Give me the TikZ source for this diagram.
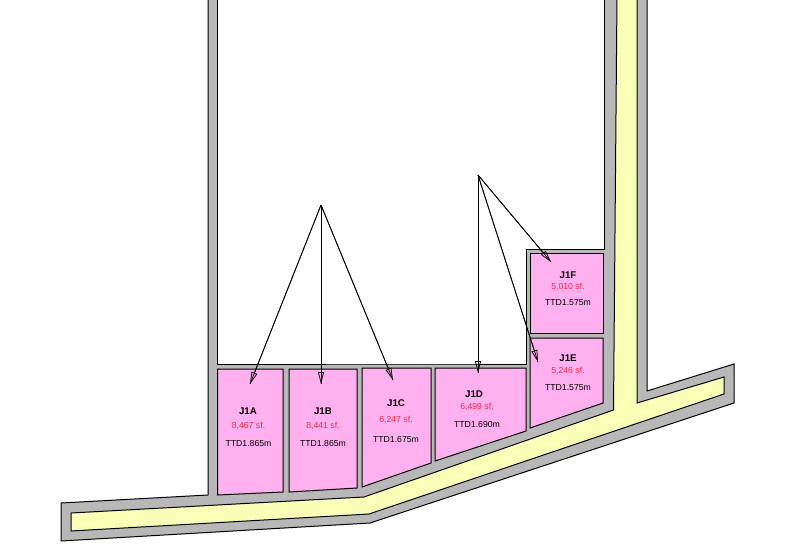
\documentclass[tikz,border=0pt]{standalone}
\usepackage{fontspec}
\setmainfont{Liberation Sans}
\usetikzlibrary{arrows.meta}
\definecolor{wallgray}{HTML}{B8B8B8}
\definecolor{roadyellow}{HTML}{F9FFB6}
\definecolor{lotpink}{HTML}{FFB0EE}
\definecolor{areared}{HTML}{F5264F}
\tikzset{
  wall/.style={fill=wallgray,draw=black,line width=1pt,line join=miter},
  road/.style={fill=roadyellow,draw=black,line width=1pt},
  yard/.style={fill=white,draw=black,line width=1pt},
  lot/.style={fill=lotpink,draw=black,line width=1pt},
  lotname/.style={font=\bfseries\fontsize{9.7}{11}\selectfont,text=black,inner sep=0pt},
  lotarea/.style={font=\fontsize{8.7}{10}\selectfont,text=areared,inner sep=0pt},
  lotcost/.style={font=\fontsize{8.7}{10}\selectfont,text=black,inner sep=0pt},
  pointer/.style={draw=black,line width=0.75pt,-{Triangle[open,length=12pt,width=6pt]}},
  shaft/.style={draw=black,line width=0.75pt}
}
\begin{document}
\begin{tikzpicture}[x=1pt,y=-1pt]
\path[use as bounding box,clip] (0,0) rectangle (793,554);
% outer wall band
\path[wall] (208,-5) -- (208,495) -- (61,503) -- (61,541) -- (370,523) -- (734,403) -- (734,364) -- (647,391) -- (647,-5) -- cycle;
% road
\path[road] (617,-5) -- (613.5,410) -- (364,497) -- (71,513) -- (71,531) -- (369,514) -- (724,394) -- (724,377) -- (637,403) -- (637,-5) -- cycle;
% enclosed white area
\path[yard] (217,-5) -- (217,364) -- (432,364) -- (526,364) -- (526,249) -- (604,249) -- (604,-5) -- cycle;
% lots
\path[lot] (217.5,369) -- (283,369) -- (283,492) -- (217.5,495) -- cycle;
\path[lot] (289,369) -- (357,369) -- (357,488) -- (289,492) -- cycle;
\path[lot] (362,368) -- (431,368) -- (431,463) -- (362,487) -- cycle;
\path[lot] (435,368) -- (526,368) -- (526,431) -- (435,461) -- cycle;
\path[lot] (530,338) -- (603,338) -- (603,403) -- (530,428) -- cycle;
\path[lot] (530,253) -- (603,253) -- (603,333) -- (530,333) -- cycle;
% labels
\node[lotname] (a1) at (248,411) {J1A};
\node[lotarea] (a2) at (248.5,426) {8,467 sf.};
\node[lotcost] (a3) at (248.5,444) {TTD1.865m};
\node[lotname] (b1) at (323,411) {J1B};
\node[lotarea] (b2) at (323,426) {8,441 sf.};
\node[lotcost] (b3) at (323,444) {TTD1.865m};
\node[lotname] (c1) at (396,403) {J1C};
\node[lotarea] (c2) at (396,420) {6,247 sf.};
\node[lotcost] (c3) at (396,439.5) {TTD1.675m};
\node[lotname] (d1) at (474,394) {J1D};
\node[lotarea] (d2) at (477,407) {6,499 sf.};
\node[lotcost] (d3) at (477,425) {TTD1.690m};
\node[lotname] (e1) at (568,358) {J1E};
\node[lotarea] (e2) at (568,371) {5,246 sf.};
\node[lotcost] (e3) at (568,388) {TTD1.575m};
\node[lotname] (f1) at (568,275) {J1F};
\node[lotarea] (f2) at (568,287) {5,010 sf.};
\node[lotcost] (f3) at (568,303) {TTD1.575m};
% pointers
\coordinate (apexL) at (321,205);
\coordinate (apexR) at (478,175);
\coordinate (tipA) at (250,384);
\coordinate (tipB) at (321,384);
\coordinate (tipC) at (393,380);
\coordinate (tipD) at (478,373);
\coordinate (tipE) at (538,362);
\coordinate (tipF) at (551,262);
\foreach \s/\t in {apexL/tipA,apexL/tipB,apexL/tipC,apexR/tipD,apexR/tipE,apexR/tipF}{
  \draw[shaft] (\s) -- (\t);
  \draw[pointer] (\s) -- (\t);
}
\end{tikzpicture}
\end{document}
